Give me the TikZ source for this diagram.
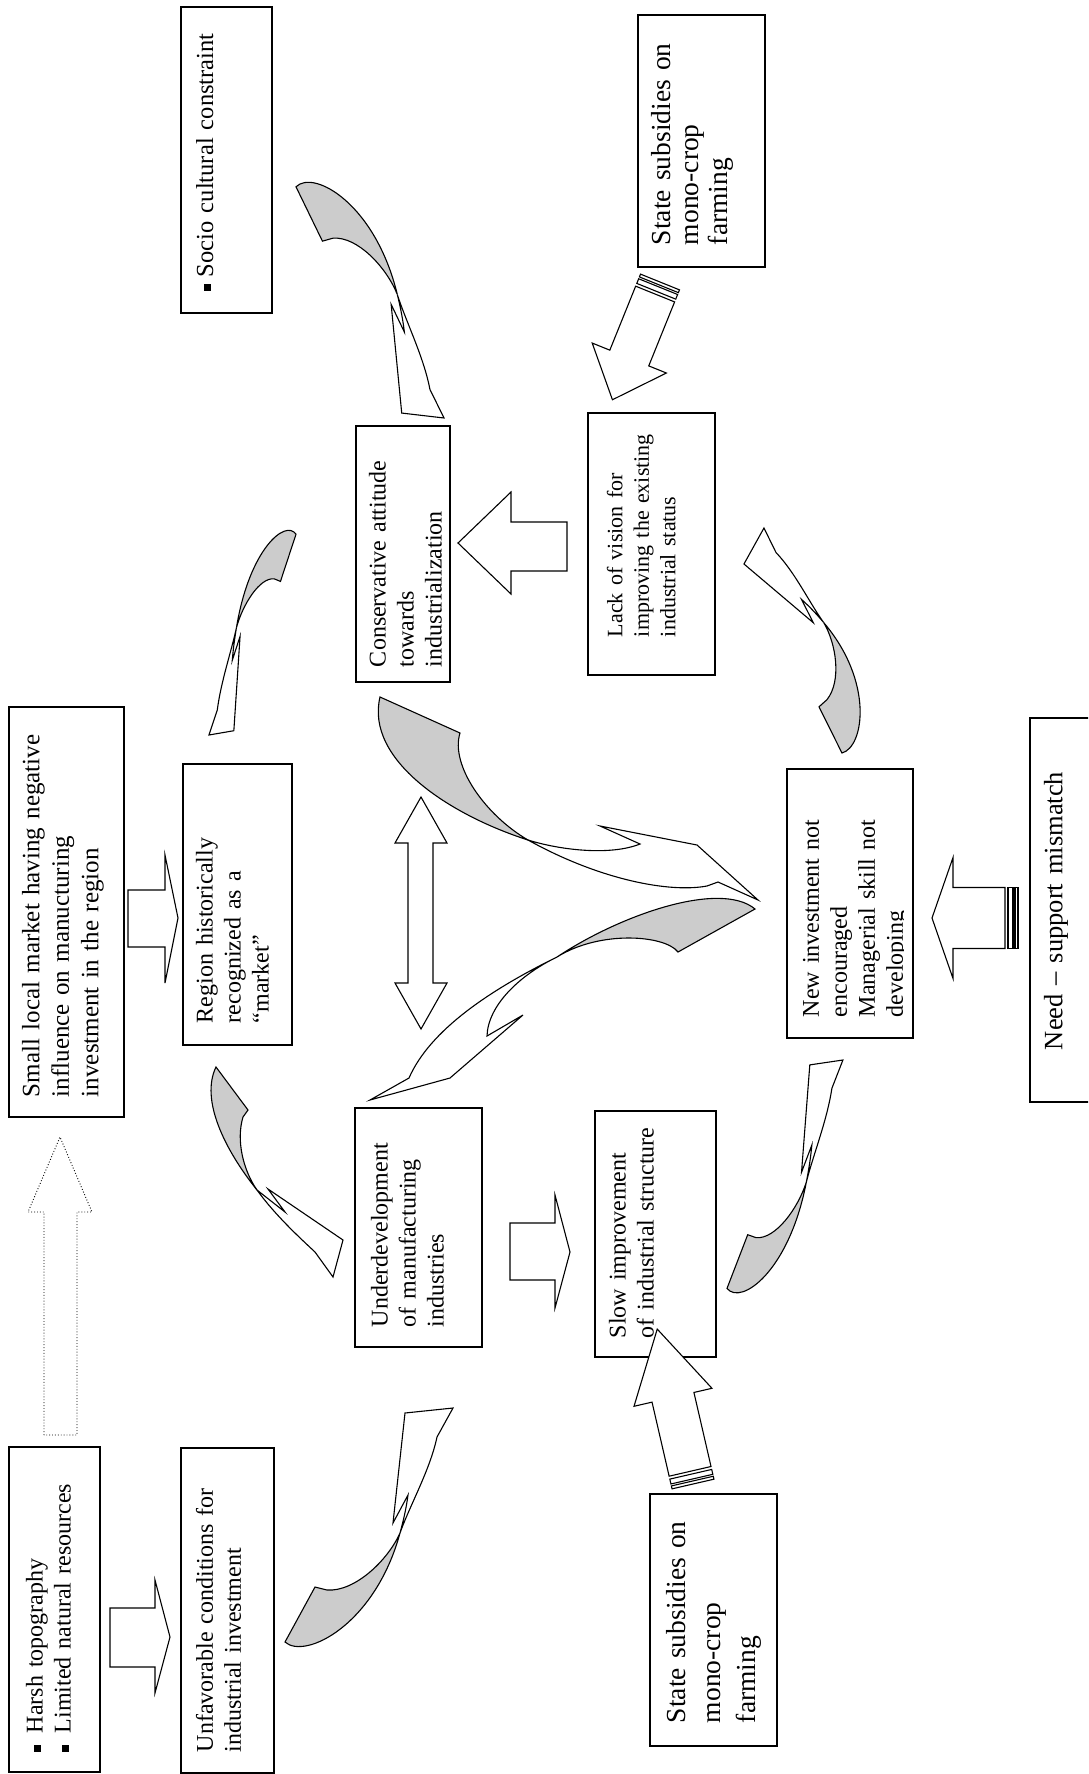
\documentclass[tikz,border=0pt]{standalone}
\usepackage{fontspec}
\setmainfont{Liberation Serif}
\newcommand\mkbox[5]{% name, x1, y1, x2, y2
  \node[box, minimum width={(#4-#2)*1pt}, minimum height={(#5-#3)*1pt}] (#1) at ({(#2+#4)/2},{(#3+#5)/2}) {};}
\newcommand\sqbullet{\raisebox{2pt}{\rule{7pt}{7pt}}}
\newcommand\spread[2]{\makebox[#1][s]{#2}}
% twisted ribbon arrow in local coordinates (tail at bottom left, head at top right)
\newcommand\ribbon{%
  \draw[ribbonback] (0,234) .. controls (20,252) and (90,217) .. (115,125)
     .. controls (103,152) and (70,184) .. (42,182) -- (30,179) -- cycle;
  \draw[ribbonfront] (115,125) .. controls (125,97) and (145,62) .. (152,29)
     -- (168,0) -- (120,5) -- (108,115) -- (123,87)
     .. controls (121,102) and (118,114) .. (115,125) -- cycle;}
% striped arrow pointing along +x, tail at origin: #1 length, #2 head length, #3 head half width, #4 shaft half width
\newcommand\stripedarrow[4]{%
  \draw[blockarrow] (0,-#4) rectangle (3,#4);
  \draw[blockarrow] (5,-#4) rectangle (10,#4);
  \draw[blockarrow] (13,-#4) -- ({#1-#2},-#4) -- ({#1-#2},-#3) -- (#1,0)
     -- ({#1-#2},#3) -- ({#1-#2},#4) -- (13,#4) -- cycle;}
\begin{document}
\begin{tikzpicture}[x=1pt,y=-1pt,
  box/.style={draw, line width=1.3pt, inner sep=0pt},
  rtxt/.style={rotate=90, anchor=north west, inner sep=0pt, outer sep=0pt, align=left},
  blockarrow/.style={draw, fill=white, line width=1.1pt, line join=miter},
  ribbonback/.style={draw, fill=black!20, line width=1.1pt, line join=miter},
  ribbonfront/.style={draw, fill=white, line width=1.1pt, line join=miter},
  f24/.style={font=\fontsize{24}{28}\selectfont},
]
\useasboundingbox (0,0) rectangle (1088,1774);
\clip (0,0) rectangle (1088,1774);
\fill[white] (0,0) rectangle (1088,1774);

% ---------- boxes ----------
\mkbox{harsh}{9}{1447}{100}{1772}
\node[rtxt, f24, text width=320pt] (harshtxt) at (26,1752)
  {\sqbullet\hspace{12pt}Harsh topography\\ \sqbullet\hspace{12pt}Limited natural resources};

\mkbox{unfav}{181}{1448}{274}{1773}
\node[rtxt, f24, text width=263pt] (unfavtxt) at (196,1752)
  {\spread{\linewidth}{Unfavorable conditions for}\\ industrial investment};

\mkbox{small}{9}{707}{124}{1117}
\node[rtxt, font=\fontsize{25}{29.5}\selectfont, text width=380pt] (smalltxt) at (22,1097)
  {Small local market having negative\\ influence on manucturing\\ investment in the region};

\mkbox{region}{183}{764}{292}{1045}
\node[rtxt, f24, text width=198pt] (regiontxt) at (196,1023)
  {\spread{\linewidth}{Region historically}\\ \spread{170pt}{recognized as a}\\ ``market''};

\mkbox{socio}{181}{7}{272}{313}
\node[rtxt, font=\fontsize{24.5}{28}\selectfont, text width=290pt] (sociotxt) at (196,291)
  {\sqbullet\hspace{7pt}Socio cultural constraint};

\mkbox{subtop}{638}{15}{765}{267}
\node[rtxt, font=\fontsize{27.5}{28.5}\selectfont, text width=230pt] (subtoptxt) at (651,245)
  {State subsidies on\\ mono-crop\\ farming};

\mkbox{consv}{356}{426}{450}{682}
\node[rtxt, f24, text width=240pt] (consvtxt) at (369,667)
  {Conservative attitude\\ towards\\ industrialization};

\mkbox{lack}{588}{413}{715}{675}
\node[rtxt, font=\fontsize{22}{26.5}\selectfont, text width=240pt] (lacktxt) at (607,637)
  {Lack of vision for\\ improving the existing\\ industrial status};

\mkbox{under}{355}{1108}{482}{1347}
\node[rtxt, f24, text width=230pt] (undertxt) at (371,1327)
  {Underdevelopment\\ of manufacturing\\ industries};

\mkbox{slow}{595}{1111}{716}{1357}
\node[rtxt, f24, text width=240pt] (slowtxt) at (609,1338)
  {Slow improvement\\ of industrial structure};

\mkbox{subbot}{650}{1494}{777}{1746}
\node[rtxt, font=\fontsize{27.5}{35}\selectfont, text width=210pt] (subbottxt) at (666,1723)
  {\spread{\linewidth}{State subsidies on}\\ mono-crop\\ farming};

\mkbox{newinv}{787}{769}{913}{1038}
\begin{scope}
  \clip (790,772) rectangle (903,1035);
  \node[rtxt, f24, text width=240pt] (newinvtxt) at (803,1017)
    {New investment not\\ encouraged\\ Managerial skill not\\ developing};
\end{scope}

\mkbox{need}{1030}{718}{1100}{1102}
\node[rtxt, font=\fontsize{26.5}{30}\selectfont, text width=330pt] (needtxt) at (1044,1050)
  {Need -- support mismatch};

% ---------- straight block arrows ----------
\draw[blockarrow] (110,1608) -- (155,1608) -- (155,1580) -- (170,1637) -- (155,1693) -- (155,1667) -- (110,1667) -- cycle;
\draw[blockarrow] (128,890) -- (165,890) -- (165,855) -- (178,918) -- (165,983) -- (165,947) -- (128,947) -- cycle;
\draw[blockarrow] (510,1223) -- (555,1223) -- (555,1195) -- (570,1252) -- (555,1308) -- (555,1280) -- (510,1280) -- cycle;
\draw[blockarrow] (567,522) -- (511,522) -- (511,492) -- (458,543) -- (511,594) -- (511,571) -- (567,571) -- cycle;
% double-headed arrow
\draw[blockarrow] (421,797) -- (447,843) -- (433,843) -- (433,983) -- (447,983) -- (421,1029)
  -- (395,983) -- (408,983) -- (408,843) -- (395,843) -- cycle;
% dotted arrow
\draw[line width=0.9pt, dotted] (44,1435) -- (44,1212) -- (28,1212) -- (60,1137) -- (92,1212) -- (77,1212) -- (77,1435) -- cycle;

% ---------- striped arrows ----------
\begin{scope}[shift={(1018,918)}, rotate=180]
  \stripedarrow{86}{21}{60.5}{30.5}
\end{scope}
\begin{scope}[shift={(693,1484)}, rotate=103]
  \stripedarrow{159}{70}{40}{21.5}
\end{scope}
\begin{scope}[shift={(660,282)}, rotate=-112]
  \stripedarrow{127}{45}{40}{21}
\end{scope}

% ---------- twisted ribbon arrows around the cycle ----------
\begin{scope}[shift={(285,1408)}]\ribbon\end{scope}
% region -> underdevelopment
\draw[ribbonback] (216,1067) -- (248,1110) -- (243,1117)
   .. controls (236,1140) and (243,1170) .. (257,1190)
   .. controls (225,1150) and (200,1100) .. (216,1067) -- cycle;
\draw[ribbonfront] (257,1190) .. controls (275,1215) and (300,1238) .. (315,1252)
   -- (333,1277) -- (343,1240) -- (268,1189) -- (285,1212) -- cycle;
\begin{scope}[shift={(296,735)}, xscale=-0.518, yscale=-0.858]\ribbon\end{scope}
\begin{scope}[shift={(296,418)}, xscale=0.881, yscale=-0.988]\ribbon\end{scope}
\begin{scope}[cm={0.4879,0.7024,-0.6836,0.4573,(682,646)}]\ribbon\end{scope}
\begin{scope}[shift={(727,1060)}, xscale=0.69, yscale=0.976]\ribbon\end{scope}

% ---------- central ribbon arrows ----------
\draw[ribbonback] (380,697) -- (460,733) .. controls (450,765) and (485,815) .. (528,840)
   .. controls (450,815) and (365,760) .. (380,697) -- cycle;
\draw[ribbonfront] (528,840) .. controls (560,850) and (610,856) .. (640,844)
   -- (600,826) -- (697,845) -- (758,900) -- (718,882) -- (707,886)
   .. controls (670,893) and (600,880) .. (528,840) -- cycle;
\draw[ribbonback] (755,909) -- (678,952) .. controls (665,935) and (600,930) .. (557,957)
   .. controls (620,915) and (720,880) .. (755,909) -- cycle;
\draw[ribbonfront] (557,957) .. controls (520,975) and (488,1005) .. (487,1036)
   -- (523,1015) -- (450,1078) -- (370,1100) -- (409,1078)
   .. controls (430,1030) and (490,990) .. (557,957) -- cycle;
\end{tikzpicture}
\end{document}
